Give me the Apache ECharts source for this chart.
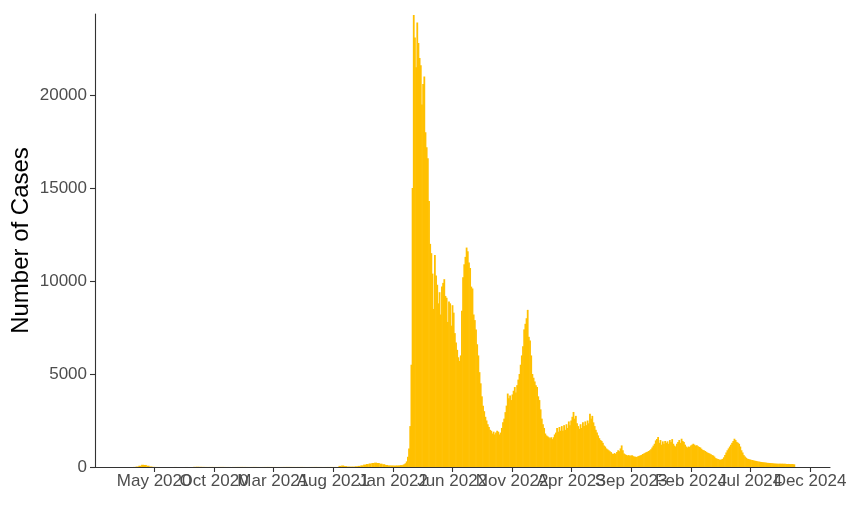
<!DOCTYPE html>
<html><head><meta charset="utf-8">
<script src="https://cdn.jsdelivr.net/npm/echarts@6/dist/echarts.min.js"></script>
<style>html,body{margin:0;padding:0;background:#fff}#c{width:850px;height:505px}</style>
</head><body><div id="c"></div>
<script>
// Weekly values for the quiet period (Feb 2020 - Jan 2022)
const quietStart = '2020-02-25';
const quietStepDays = 7;
const quietCases = [
  0,1,5,25,70,120,110,70,30,10,4,
  2,1,1,0,0,1,2,1,1,1,2,1,1,
  10,15,12,8,5,4,5,
  4,3,5,6,4,3,2,3,4,5,6,5,4,3,4,5,3,2,3,4,5,4,3,2,3,4,5,6,5,4,3,4,5,3,2,3,4,5,4,3,2,3,4,5,4,3,
  60,80,50,30,25,25,
  40,60,90,130,160,190,215,235,215,180,150,110,90,85,80,85,90
];
// Values every 3 days for the active period (Jan 2022 - Oct 2024)
const activeStart = '2022-01-21';
const activeStepDays = 3;
const activeCases = [
  90,100,120,150,200,300,550,1000,2200,5500,
  15000,24300,23100,21500,23900,22800,22000,21600,19500,20600,
  21000,18000,17200,16600,14300,12000,11500,10400,8500,11400,
  10300,9800,8800,9400,8200,9700,9900,10100,9200,9100,
  7800,8900,8800,7600,8700,8300,7200,6700,6300,5900,
  5700,6000,8400,10200,10900,11300,11800,11600,11000,10700,
  9700,9600,8200,7900,7400,6600,6000,5100,4500,3800,
  3300,3000,2700,2500,2300,2150,2000,1950,1800,1900,
  1750,1850,1950,1900,1750,1850,2100,2400,2600,2950,
  3300,3950,3700,3850,3600,3900,4100,4300,4000,4400,
  4700,5000,5500,6000,6500,7400,7700,8000,8450,7000,
  6800,6000,5000,4800,4600,4400,4300,3800,3600,3100,
  2600,2300,2100,1800,1700,1650,1600,1550,1600,1500,
  1600,1750,1850,2100,1900,2150,1950,2200,1950,2250,
  2000,2300,2100,2450,2250,2500,2700,2960,2600,2750,
  2350,2200,2050,2300,2100,2400,2200,2450,2250,2500,
  2350,2870,2600,2750,2400,2200,2000,1850,1700,1550,
  1450,1400,1300,1150,1100,1000,950,900,850,800,
  720,700,750,700,800,900,850,1000,1160,900,
  720,680,650,620,640,600,620,630,580,560,
  550,540,580,600,630,650,700,720,760,800,
  820,860,900,950,1050,1150,1250,1430,1500,1610,
  1300,1450,1200,1380,1250,1400,1300,1380,1250,1450,
  1350,1500,1250,1150,1100,1250,1350,1450,1300,1520,
  1400,1350,1200,1100,1050,1100,1080,1150,1200,1250,
  1200,1150,1170,1120,1080,1050,980,920,900,860,
  820,780,750,720,680,640,620,560,480,450,
  430,400,390,410,440,520,650,780,900,1000,
  1100,1200,1300,1400,1520,1450,1350,1300,1250,1100,
  900,780,640,560,500,450,430,410,395,380,
  360,345,330,320,300,290,280,270,260,250,
  245,235,225,220,215,210,200,195,190,185,
  180,180,175,180,175,180,170,175,165,160,
  165,160,155,160,150,145
];
const xTickDates = ['2020-05-01','2020-10-01','2021-03-01','2021-08-01','2022-01-01','2022-06-01',
  '2022-11-01','2023-04-01','2023-09-01','2024-02-01','2024-07-01','2024-12-01'];
const xTickLabels = ['May 2020','Oct 2020','Mar 2021','Aug 2021','Jan 2022','Jun 2022',
  'Nov 2022','Apr 2023','Sep 2023','Feb 2024','Jul 2024','Dec 2024'];
const yTicks = [0,5000,10000,15000,20000];

const DAY = 86400000;
function ts(s){ return Date.parse(s + 'T00:00:00Z'); }
function toPairs(start, step, vals){ const t0 = ts(start); return vals.map((v,i)=>[t0 + i*step*DAY, v]); }
const xTickTs = xTickDates.map(ts);
const xMin = ts('2019-12-02'), xMax = ts('2025-01-21');

const FONT = '"Liberation Sans", Arial, sans-serif';
function xLabel(v){
  let best = 0, bd = Infinity;
  xTickTs.forEach((t,i)=>{ const d = Math.abs(t - v); if (d < bd){ bd = d; best = i; } });
  return xTickLabels[best];
}
// Labels split over two overlaid axes so that overlapping neighbours are all drawn (as in the reference)
const evenTs = xTickTs.filter((t,i)=>i%2===0);
const oddTs = xTickTs.filter((t,i)=>i%2===1);
function makeX(labelTs, showLine){
  return {
    type: 'value', scale: true, min: xMin, max: xMax, position: 'bottom',
    axisLine: {show: showLine, onZero: false, lineStyle: {color: '#333', width: 1.1}},
    axisTick: {show: true, customValues: labelTs, length: 5, lineStyle: {color: '#333', width: 1.1}},
    axisLabel: {
      customValues: labelTs, hideOverlap: false, margin: 6,
      showMinLabel: true, showMaxLabel: true,
      color: '#4d4d4d', fontSize: 17, fontFamily: FONT, formatter: xLabel
    },
    splitLine: {show: false}
  };
}

const chart = echarts.init(document.getElementById('c'), null, {renderer:'canvas'});
chart.setOption({
  animation: false,
  backgroundColor: '#fff',
  grid: {left: 95, right: 20, top: 14, bottom: 38, containLabel: false, outerBoundsMode: 'none'},
  xAxis: [makeX(evenTs, true), makeX(oddTs, false)],
  yAxis: {
    type: 'value', min: 0, max: 24360,
    name: 'Number of Cases', nameLocation: 'middle', nameGap: 62, nameMoveOverlap: false,
    nameTextStyle: {fontSize: 24, color: '#000', fontFamily: FONT},
    axisLine: {show: true, lineStyle: {color: '#333', width: 1.1}},
    axisTick: {show: true, customValues: yTicks, length: 5, lineStyle: {color: '#333', width: 1.1}},
    axisLabel: {customValues: yTicks, margin: 8, color: '#4d4d4d', fontSize: 17, fontFamily: FONT,
      formatter: function(v){ return String(v); }},
    splitLine: {show: false}
  },
  series: [
    {type: 'bar', name: 'quiet', xAxisIndex: 0, data: toPairs(quietStart, quietStepDays, quietCases),
     barWidth: 3, barGap: '-100%', itemStyle: {color: '#FFC000'}, silent: true},
    {type: 'bar', name: 'active', xAxisIndex: 0, data: toPairs(activeStart, activeStepDays, activeCases),
     barWidth: 1.8, barGap: '-100%', itemStyle: {color: '#FFC000'}, silent: true}
  ]
});
</script>
</body></html>
